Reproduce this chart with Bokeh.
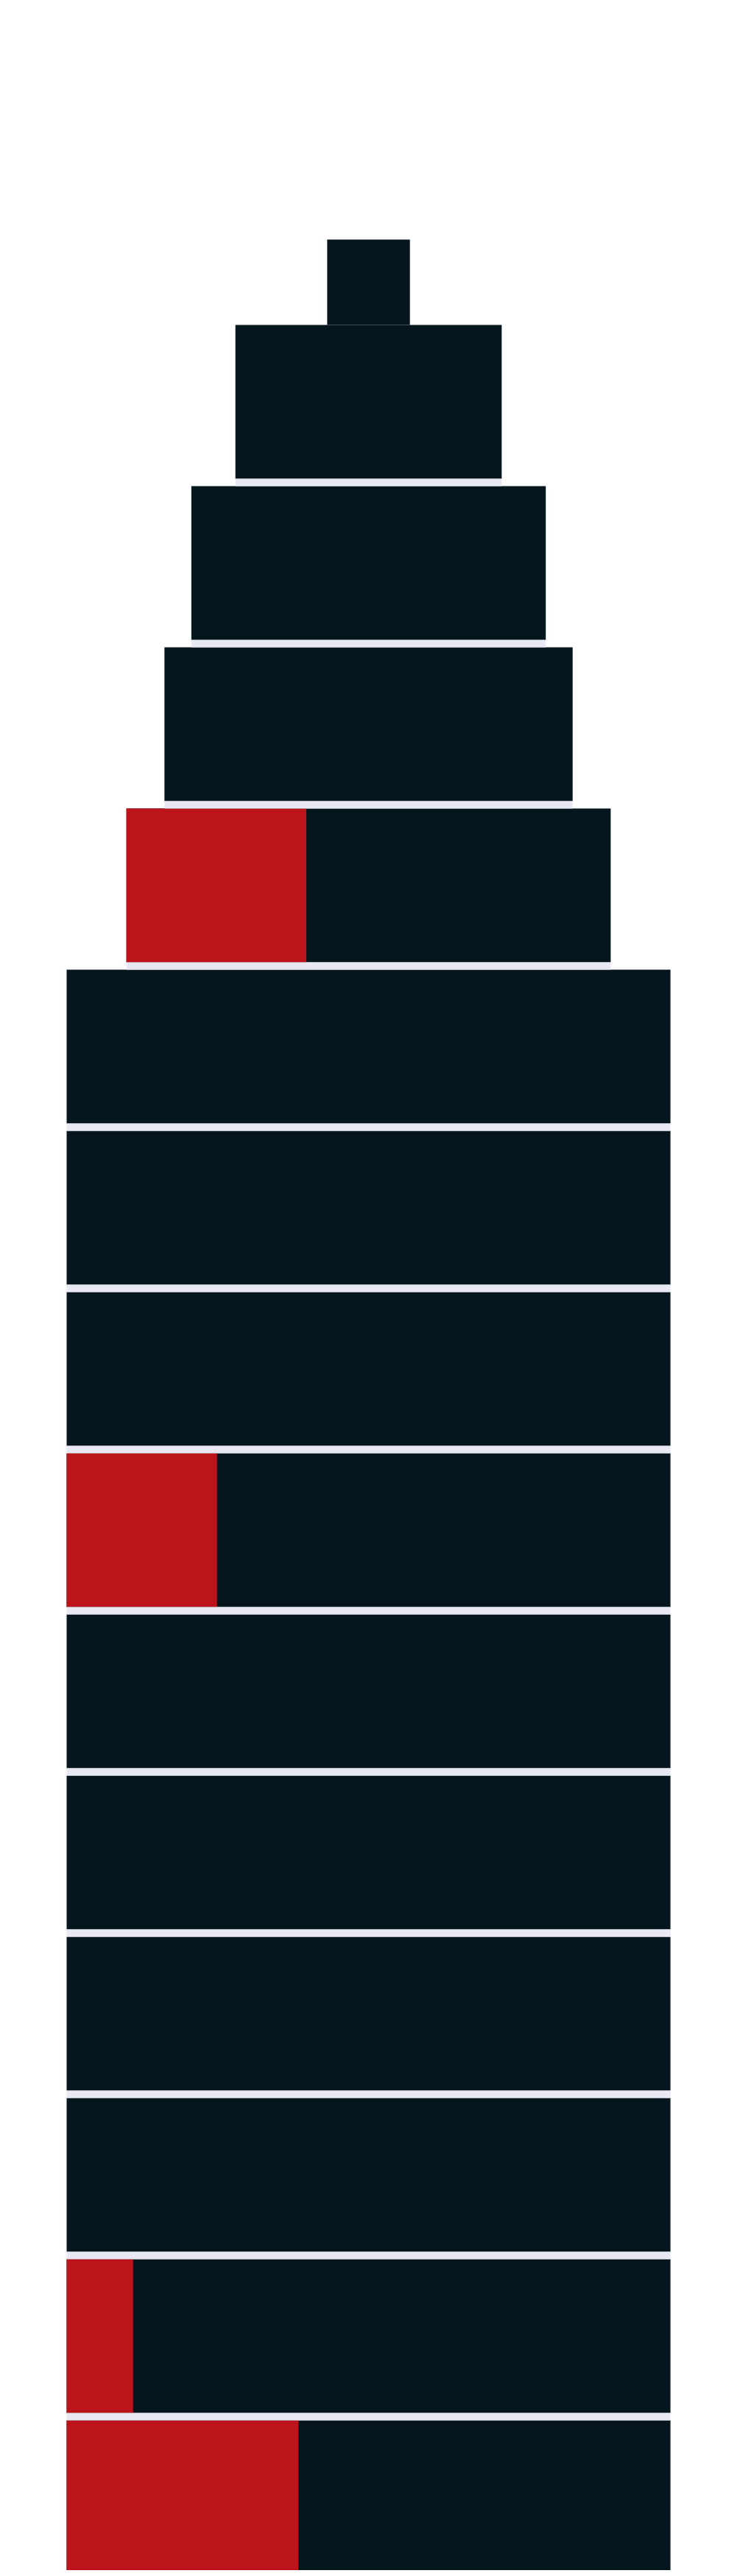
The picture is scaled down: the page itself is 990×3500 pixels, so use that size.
from bokeh.plotting import figure
from bokeh.models import Range1d, ColumnDataSource
from bokeh.embed import file_html
from bokeh.resources import INLINE

# ---- data (floors listed bottom -> top) ----
floors = ["F1", "F2", "F3", "F4", "F5", "F6", "F7", "F8", "F9", "F10",
          "F11", "F12", "F13", "F14"]
total_width = [100, 100, 100, 100, 100, 100, 100, 100, 100, 100,
               80.2, 67.6, 58.7, 44.1]
red_width = [38.4, 11.0, 0, 0, 0, 0, 24.9, 0, 0, 0,
             29.8, 0, 0, 0]
spire_width = 13.7
spire_height = 0.53

DARK = "#06161e"
RED = "#bd141c"
SEP = "#e8e9f2"
gap = 10 / 219.0

n = len(floors)
idx = list(range(n))
dark_src = ColumnDataSource(dict(
    left=[-w / 2 for w in total_width],
    right=[w / 2 for w in total_width],
    bottom=[i + gap for i in idx],
    top=[i + 1 for i in idx],
))
red_idx = [i for i in idx if red_width[i] > 0]
red_src = ColumnDataSource(dict(
    left=[-total_width[i] / 2 for i in red_idx],
    right=[-total_width[i] / 2 + red_width[i] for i in red_idx],
    bottom=[i + gap for i in red_idx],
    top=[i + 1 for i in red_idx],
))
sep_src = ColumnDataSource(dict(
    left=[-w / 2 for w in total_width],
    right=[w / 2 for w in total_width],
    bottom=[i for i in idx],
    top=[i + gap for i in idx],
))

p = figure(width=982, height=3492,
           x_range=Range1d(-60.976, 58.78), y_range=Range1d(0.0685, 16.0137),
           output_backend="svg", toolbar_location=None, min_border=0,
           background_fill_color="white", border_fill_color="white")
p.axis.visible = False
p.grid.visible = False
p.outline_line_color = None

p.quad(left="left", right="right", bottom="bottom", top="top", source=dark_src,
       fill_color=DARK, line_color=None)
p.quad(left="left", right="right", bottom="bottom", top="top", source=red_src,
       fill_color=RED, line_color=None)
p.quad(left="left", right="right", bottom="bottom", top="top", source=sep_src,
       fill_color=SEP, line_color=None)
p.quad(left=[-spire_width / 2], right=[spire_width / 2], bottom=[n],
       top=[n + spire_height], fill_color=DARK, line_color=None)

open("out.html", "w").write(file_html(p, INLINE))
